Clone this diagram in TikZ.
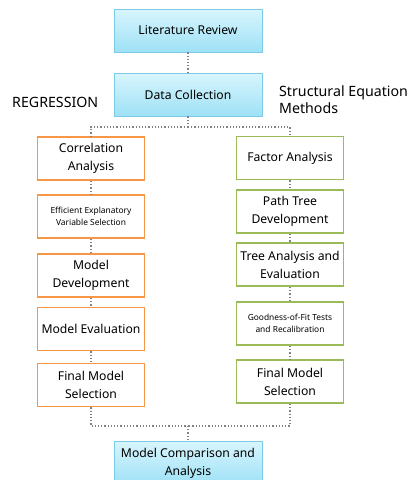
\documentclass[tikz,border=0pt]{standalone}
\usepackage{fontspec}
\setmainfont{Noto Sans}
\usetikzlibrary{shadows}
\definecolor{boxorange}{RGB}{247,150,70}
\definecolor{boxgreen}{RGB}{155,187,89}
\definecolor{boxblueline}{RGB}{125,202,230}
\definecolor{bluetop}{RGB}{216,245,253}
\definecolor{bluebot}{RGB}{158,225,246}
\definecolor{linkgray}{RGB}{130,130,130}
\begin{document}
\begin{tikzpicture}[x=1pt,y=-1pt,
  base/.style={draw, minimum height=43pt, align=center, inner sep=1pt,
    text=black, font=\fontsize{12.2}{18}\selectfont},
  small/.style={font=\fontsize{8.4}{12}\selectfont},
  bluebox/.style={base, draw=boxblueline, line width=0.8pt,
    top color=bluetop, bottom color=bluebot, minimum width=148pt,
    drop shadow={shadow xshift=1.2pt, shadow yshift=-1.2pt, opacity=0.25}},
  orangebox/.style={base, draw=boxorange, line width=1.9pt, fill=white,
    minimum width=107pt},
  greenbox/.style={base, draw=boxgreen, line width=1.9pt, fill=white,
    minimum width=107pt},
  link/.style={draw=linkgray, line width=1.2pt, dotted},
  label/.style={font=\fontsize{14.2}{17}\selectfont, align=left, inner sep=0pt}
]
\clip (0,0) rectangle (417,480);
\useasboundingbox (0,0) rectangle (417,480);

% main trunk
\node[bluebox] (lr) at (188,30.5) {Literature Review};
\node[bluebox] (dc) at (188,94.5) {Data Collection};

% regression branch
\node[orangebox] (corr) at (91,158.5) {Correlation\\Analysis};
\node[orangebox, small] (eff) at (91,216.5) {Efficient Explanatory\\Variable Selection};
\node[orangebox] (mdev) at (91,275.5) {Model\\Development};
\node[orangebox] (meval) at (91,329) {Model Evaluation};
\node[orangebox] (fmsl) at (91,385) {Final Model\\Selection};

% structural equation branch
\node[greenbox] (fa) at (290,158) {Factor Analysis};
\node[greenbox] (ptd) at (290,211.5) {Path Tree\\Development};
\node[greenbox] (tae) at (290,264.5) {Tree Analysis and\\Evaluation};
\node[greenbox, small] (gof) at (290,323.5) {Goodness-of-Fit Tests\\and Recalibration};
\node[greenbox] (fmsr) at (290,381.5) {Final Model\\Selection};

% comparison
\node[bluebox] (mca) at (188,463) {Model Comparison and\\Analysis};

% branch labels
\node[label, anchor=west] (reg) at (12,102) {REGRESSION};
\node[label, anchor=west] (sem) at (279,100) {Structural Equation\\Methods};

% connectors
\coordinate (split) at (188,127);
\coordinate (join) at (188,426);
\draw[link] (lr.south) -- (dc.north);
\draw[link] (dc.south) -- (split);
\draw[link] (split) -| (corr.north);
\draw[link] (split) -| (fa.north);
\draw[link] (corr) -- (eff);
\draw[link] (eff) -- (mdev);
\draw[link] (mdev) -- (meval);
\draw[link] (meval) -- (fmsl);
\draw[link] (fa) -- (ptd);
\draw[link] (ptd) -- (tae);
\draw[link] (tae) -- (gof);
\draw[link] (gof) -- (fmsr);
\draw[link] (fmsl.south) |- (join);
\draw[link] (fmsr.south) |- (join);
\draw[link] (join) -- (mca.north);
\end{tikzpicture}
\end{document}
